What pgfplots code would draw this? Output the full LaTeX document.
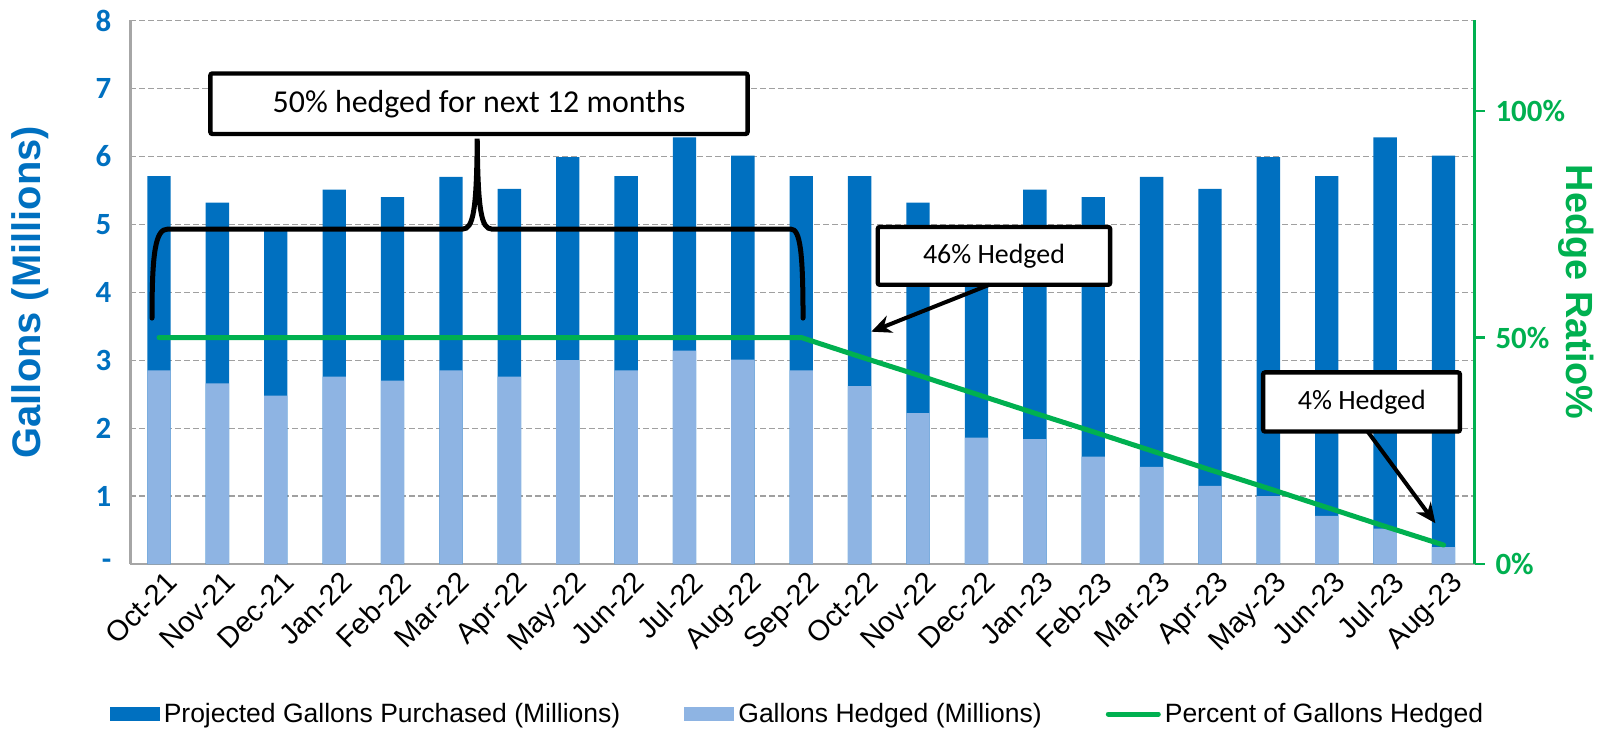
\documentclass[border=0pt]{standalone}
\usepackage{pgfplots}
\pgfplotsset{compat=1.18}
\usetikzlibrary{arrows.meta}
\usepackage{fontspec}
\setmainfont{Liberation Sans}
\newfontfamily\carlito{Carlito}
\definecolor{gblue}{HTML}{0070C0}
\definecolor{hblue}{HTML}{8EB4E3}
\definecolor{hgreen}{HTML}{00B050}
\definecolor{axgray}{HTML}{A6A6A6}
\definecolor{gridgray}{HTML}{A0A0A0}

\begin{document}
\begin{tikzpicture}
\begin{axis}[
    name=main,
    scale only axis, width=672bp, height=271.75bp,
    xmin=-0.49, xmax=22.53, ymin=0, ymax=8,
    xtick={0,...,22},
    xticklabels={Oct-21,Nov-21,Dec-21,Jan-22,Feb-22,Mar-22,Apr-22,May-22,Jun-22,Jul-22,Aug-22,Sep-22,
                 Oct-22,Nov-22,Dec-22,Jan-23,Feb-23,Mar-23,Apr-23,May-23,Jun-23,Jul-23,Aug-23},
    xticklabel style={rotate=45, anchor=north east, font=\fontsize{14.5}{16}\selectfont, inner sep=1bp, yshift=-3bp, xshift=1bp},
    ytick={0,...,8},
    yticklabels={{-},1,2,3,4,5,6,7,8},
    yticklabel style={font=\carlito\bfseries\fontsize{15.5}{18}\selectfont, text=gblue, xshift=-6bp},
    axis x line*=bottom, axis y line*=left,
    axis line style={draw=axgray, line width=1.2bp, -},
    major tick length=0pt,
    ymajorgrids, grid style={gridgray, line width=0.6bp, dash pattern=on 3bp off 1.5bp},
    ylabel={Gallons (Millions)},
    ylabel style={font=\bfseries\fontsize{20}{24}\selectfont, text=gblue, at={(axis description cs:-0.0744,0.5)}, anchor=center},
    legend columns=3,
    legend style={draw=none, fill=none, font=\fontsize{13.3}{15}\selectfont,
        at={(axis description cs:0.497,-0.276)}, anchor=center,
        /tikz/every even column/.append style={column sep=30bp},
        nodes={inner xsep=2bp}},
]
\addplot[ybar, bar width=0.4, bar shift=0pt, fill=gblue, draw=none,
    legend image code/.code={\fill[gblue] (0bp,-3.5bp) rectangle (25bp,3.5bp);}]
coordinates {
    (0,5.71) (1,5.32) (2,4.96) (3,5.51) (4,5.40) (5,5.70) (6,5.52) (7,5.99) (8,5.71) (9,6.28) (10,6.01) (11,5.71)
    (12,5.71) (13,5.32) (14,4.96) (15,5.51) (16,5.40) (17,5.70) (18,5.52) (19,5.99) (20,5.71) (21,6.28) (22,6.01)
};
\addlegendentry{Projected Gallons Purchased (Millions)}
\addplot[ybar, bar width=0.4, bar shift=0pt, fill=hblue, draw=none,
    legend image code/.code={\fill[hblue] (0bp,-3.5bp) rectangle (25bp,3.5bp);}]
coordinates {
    (0,2.85) (1,2.66) (2,2.48) (3,2.76) (4,2.70) (5,2.85) (6,2.76) (7,3.00) (8,2.85) (9,3.14) (10,3.01) (11,2.85)
    (12,2.62) (13,2.22) (14,1.86) (15,1.84) (16,1.58) (17,1.43) (18,1.15) (19,1.00) (20,0.71) (21,0.52) (22,0.25)
};
\addlegendentry{Gallons Hedged (Millions)}
\addlegendimage{legend image code/.code={\draw[hgreen, line width=2.5bp, line cap=round] (0bp,0bp) -- (25bp,0bp);}}
\addlegendentry{Percent of Gallons Hedged}

% annotations
\draw[line width=2.2bp, fill=white, rounded corners=1bp] (axis cs:0.88,6.33) rectangle (axis cs:10.08,7.22);
\node[font=\carlito\fontsize{16}{19}\selectfont] at (axis cs:5.48,6.775) {50\% hedged for next 12 months};
\draw[line width=2.5bp, line cap=round]
    (axis cs:-0.12,3.62) .. controls (axis cs:-0.12,4.6) and (axis cs:-0.06,4.93) .. (axis cs:0.15,4.93)
    -- (axis cs:5.2,4.93) .. controls (axis cs:5.38,4.93) and (axis cs:5.44,5.2) .. (axis cs:5.45,6.26)
    .. controls (axis cs:5.46,5.2) and (axis cs:5.52,4.93) .. (axis cs:5.7,4.93)
    -- (axis cs:10.82,4.93) .. controls (axis cs:10.98,4.93) and (axis cs:11.03,4.6) .. (axis cs:11.03,3.62);
\draw[line width=2.2bp, fill=white, rounded corners=1bp] (axis cs:12.31,4.11) rectangle (axis cs:16.29,4.96);
\node[font=\carlito\fontsize{14}{17}\selectfont] at (axis cs:14.3,4.535) {46\% Hedged};
\draw[line width=2bp, -{Stealth[length=10bp,width=9bp]}] (axis cs:14.22,4.11) -- (axis cs:12.2,3.42);
\draw[line width=2.2bp, fill=white, rounded corners=1bp] (axis cs:18.91,1.95) rectangle (axis cs:22.28,2.82);
\node[font=\carlito\fontsize{14}{17}\selectfont] at (axis cs:20.6,2.385) {4\% Hedged};
\draw[line width=2bp, -{Stealth[length=10bp,width=9bp]}] (axis cs:20.70,1.95) -- (axis cs:21.86,0.60);
\end{axis}

\begin{axis}[
    scale only axis, width=672bp, height=271.75bp,
    xmin=-0.49, xmax=22.53, ymin=0, ymax=120,
    axis x line=none, axis y line*=right,
    y axis line style={draw=hgreen, line width=1.2bp, -},
    ytick={0,50,100}, yticklabels={0\%,50\%,100\%},
    yticklabel style={font=\carlito\bfseries\fontsize{15.5}{18}\selectfont, text=hgreen, xshift=2bp},
    tick align=outside, major tick length=5bp,
    tick style={hgreen, line width=1.2bp},
    ylabel={Hedge Ratio\%},
    ylabel style={font=\bfseries\fontsize{19}{22}\selectfont, text=hgreen, at={(axis description cs:1.0759,0.5)}, anchor=center, rotate=180},
]
\addplot[hgreen, line width=2.5bp, line join=round, line cap=round] coordinates {
    (0,50) (1,50) (2,50) (3,50) (4,50) (5,50) (6,50) (7,50) (8,50) (9,50) (10,50) (11,50)
    (12,45.8) (13,41.7) (14,37.5) (15,33.3) (16,29.2) (17,25.0) (18,20.8) (19,16.7) (20,12.5) (21,8.3) (22,4.2)
};
\end{axis}
\path ([shift={(-65.2bp,-84bp)}]main.south west) rectangle ([shift={(67.75bp,10.25bp)}]main.north east);
\end{tikzpicture}
\end{document}
